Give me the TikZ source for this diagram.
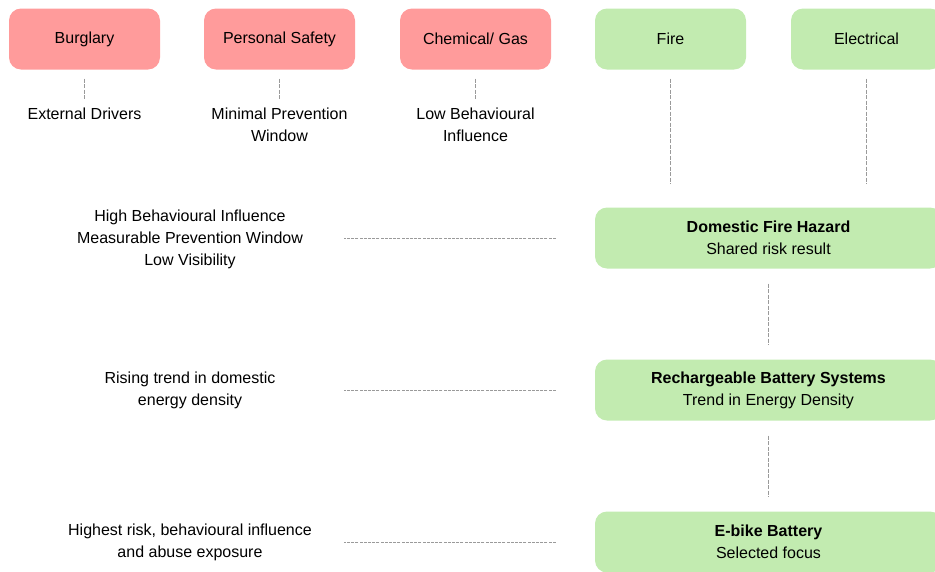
\documentclass[tikz,border=0pt]{standalone}
\usepackage{fontspec}
\setmainfont{Liberation Sans}
\definecolor{redbox}{HTML}{FF9B9B}
\definecolor{greenbox}{HTML}{C2EBB0}
\definecolor{dashgrey}{HTML}{9A9A9A}
\begin{document}
\begin{tikzpicture}[x=1pt,y=-1pt,
  every node/.style={font=\fontsize{16}{22}\selectfont, text=black, inner sep=0pt},
  redcat/.style={fill=redbox, rounded corners=12pt, minimum width=151pt, minimum height=61pt},
  greencat/.style={fill=greenbox, rounded corners=12pt, minimum width=151pt, minimum height=61pt},
  greenwide/.style={fill=greenbox, rounded corners=12pt, minimum width=347pt, minimum height=61pt, align=center},
  note/.style={align=center},
  dl/.style={draw=dashgrey, line width=0.8pt, dash pattern=on 4pt off 1.5pt},
  hl/.style={draw=dashgrey, line width=0.7pt, dash pattern=on 3pt off 1.2pt}
]
\useasboundingbox (0,0) rectangle (935,571);
\clip (0,0) rectangle (935,571);

% top category boxes
\node[redcat] (burg) at (84.5,39) {Burglary};
\node[redcat] (pers) at (279.5,39) {Personal Safety};
\node[redcat] (chem) at (475.5,39) {Chemical/ Gas};
\node[greencat] (fire) at (670.5,39) {Fire};
\node[greencat] (elec) at (866.5,39) {Electrical};

% notes under red boxes
\node[note, anchor=north] (ext) at (84.5,107.5) {External Drivers};
\node[note, anchor=north] (minp) at (279.5,107.5) {Minimal Prevention\\Window};
\node[note, anchor=north] (lowb) at (475.5,107.5) {Low Behavioural\\Influence};

\draw[dl] ([yshift=-9pt]burg.south) -- ([yshift=-29pt]burg.south);
\draw[dl] ([yshift=-9pt]pers.south) -- ([yshift=-29pt]pers.south);
\draw[dl] ([yshift=-9pt]chem.south) -- ([yshift=-29pt]chem.south);
\draw[dl] ([yshift=-9pt]fire.south) -- ([yshift=-114pt]fire.south);
\draw[dl] ([yshift=-9pt]elec.south) -- ([yshift=-114pt]elec.south);

% green chain
\node[greenwide] (dom) at (768.5,238) {\textbf{Domestic Fire Hazard}\\Shared risk result};
\node[greenwide] (rech) at (768.5,390) {\textbf{Rechargeable Battery Systems}\\Trend in Energy Density};
\node[greenwide] (ebike) at (768.5,542) {\textbf{E-bike Battery}\\Selected focus};

\draw[dl, shorten <=15pt, shorten >=15pt] (dom.south -| 768,0) -- (rech.north -| 768,0);
\draw[dl, shorten <=15pt, shorten >=15pt] (rech.south -| 768,0) -- (ebike.north -| 768,0);

% left side notes
\node[note] (hbi) at (190,239.5) {High Behavioural Influence\\Measurable Prevention Window\\Low Visibility};
\node[note] (rise) at (190,390.5) {Rising trend in domestic\\energy density};
\node[note] (high) at (190,542.5) {Highest risk, behavioural influence\\and abuse exposure};

\draw[hl] ([xshift=-39pt]dom.west) -- ([xshift=-251pt]dom.west);
\draw[hl] ([xshift=-39pt]rech.west) -- ([xshift=-251pt]rech.west);
\draw[hl] ([xshift=-39pt]ebike.west) -- ([xshift=-251pt]ebike.west);
\end{tikzpicture}
\end{document}
